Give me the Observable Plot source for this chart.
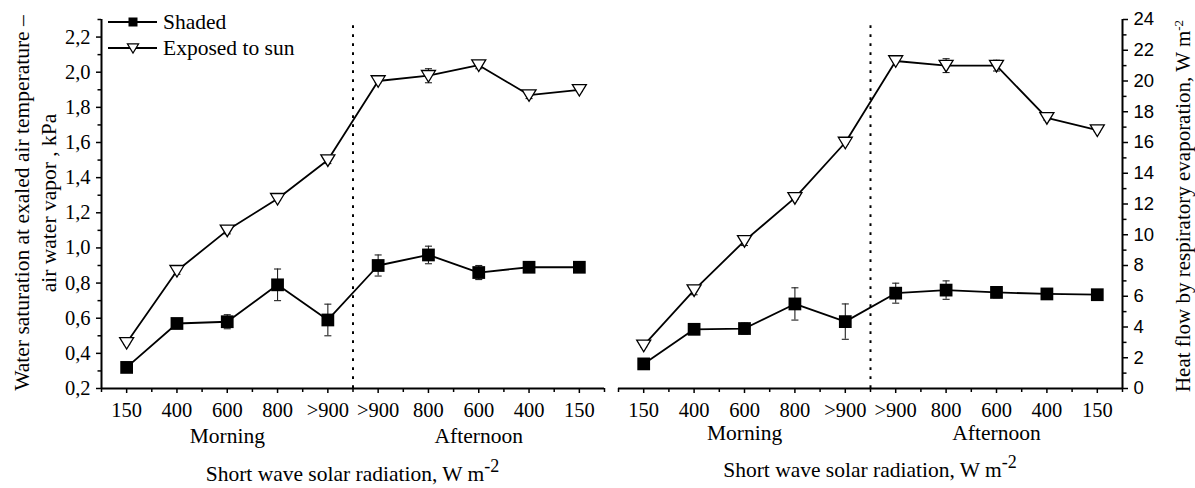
<!DOCTYPE html>
<html>
<head>
<meta charset="utf-8">
<script src="https://cdn.jsdelivr.net/npm/d3@7"></script>
<script src="https://cdn.jsdelivr.net/npm/@observablehq/plot@0.6"></script>
<style>
  body { margin: 0; background: #fff; }
  #wrap { display: flex; width: 1195px; height: 488px; overflow: hidden; }
  #wrap svg { display: block; }
</style>
</head>
<body>
<div id="wrap"></div>
<script>
// Radiation classes along the day (morning rising, afternoon falling)
const radiationLabels = ["150", "400", "600", "800", ">900", ">900", "800", "600", "400", "150"];
const periods = ["Morning", "Afternoon"];

// Left panel: water saturation deficit of exhaled air, kPa
const shadedVp    = [0.32, 0.57, 0.58, 0.79, 0.59, 0.90, 0.96, 0.86, 0.89, 0.89];
const shadedVpErr = [0.01, 0.01, 0.04, 0.09, 0.09, 0.06, 0.05, 0.04, 0.01, 0.01];
const sunVp       = [0.46, 0.87, 1.10, 1.28, 1.50, 1.95, 1.98, 2.04, 1.87, 1.90];
const sunVpErr    = [0.01, 0.02, 0.02, 0.01, 0.02, 0.01, 0.04, 0.02, 0.02, 0.01];

// Right panel: heat flow by respiratory evaporation, W m-2
const shadedHeat    = [1.6, 3.85, 3.9, 5.5, 4.35, 6.2, 6.4, 6.25, 6.15, 6.1];
const shadedHeatErr = [0.1, 0.15, 0.35, 1.05, 1.15, 0.65, 0.6, 0.35, 0.1, 0.1];
const sunHeat       = [2.8, 6.4, 9.6, 12.4, 16.0, 21.3, 21.0, 21.0, 17.6, 16.8];
const sunHeatErr    = [0.1, 0.3, 0.3, 0.1, 0.1, 0.1, 0.45, 0.35, 0.15, 0.1];

const seriesNames = ["Shaded", "Exposed to sun"];

const SERIF = "'Liberation Serif', 'Times New Roman', serif";
const SANS = "'Liberation Sans', Arial, sans-serif";

const rows = (values, errors) => values.map((v, i) => ({i, v, e: errors[i]}));

// Downward-pointing open triangle
const triangleDown = {
  draw(context, size) {
    const r = Math.sqrt(size / Math.PI);
    context.moveTo(-r, -0.75 * r);
    context.lineTo(r, -0.75 * r);
    context.lineTo(0, 0.9 * r);
    context.closePath();
  }
};

function errorMarks(data) {
  const cap = 0.07;
  return [
    Plot.ruleX(data, {x: "i", y1: d => d.v - d.e, y2: d => d.v + d.e, stroke: "#222", strokeWidth: 1.1}),
    Plot.link(data, {x1: d => d.i - cap, x2: d => d.i + cap, y1: d => d.v + d.e, y2: d => d.v + d.e, stroke: "#222", strokeWidth: 1.1}),
    Plot.link(data, {x1: d => d.i - cap, x2: d => d.i + cap, y1: d => d.v - d.e, y2: d => d.v - d.e, stroke: "#222", strokeWidth: 1.1})
  ];
}

function panel(o) {
  const shaded = rows(o.shaded, o.shadedErr);
  const sun = rows(o.sun, o.sunErr);
  const periodRows = periods.map((t, k) => ({t, i: k === 0 ? 2 : 7}));
  const plot = Plot.plot({
    width: o.width,
    height: 488,
    marginLeft: o.marginLeft,
    marginRight: o.marginRight,
    marginTop: 19,
    marginBottom: 100,
    x: {type: "linear", domain: [-0.5, 9.5], label: null},
    y: {domain: o.yDomain, label: null},
    style: {fontFamily: SERIF, fontSize: "20px", background: "white", color: "black", overflow: "visible"},
    marks: [
      // morning / afternoon divider
      Plot.ruleX([4.5], {y1: o.yDomain[0], y2: o.dividerTop, strokeWidth: 2, strokeDasharray: "2.7,6.3"}),
      ...errorMarks(shaded),
      ...errorMarks(sun),
      Plot.line(shaded, {x: "i", y: "v", strokeWidth: 1.8}),
      Plot.line(sun, {x: "i", y: "v", strokeWidth: 1.8}),
      Plot.dot(shaded, {x: "i", y: "v", symbol: "square", r: 7.2, fill: "black", stroke: "none"}),
      Plot.dot(sun, {x: "i", y: "v", symbol: triangleDown, r: 7, fill: "white", stroke: "black", strokeWidth: 1.3}),
      // x axis
      Plot.ruleY([o.yDomain[0]], {strokeWidth: 2}),
      Plot.axisX({ticks: d3.range(10), tickFormat: i => radiationLabels[i], tickSize: 5, tickPadding: 9,
                  strokeWidth: 1.5, label: null, fontFamily: SERIF, fontSize: 20.5}),
      Plot.axisX({ticks: d3.range(11).map(k => k - 0.5), tickFormat: () => "", tickSize: 4, strokeWidth: 1.5, label: null}),
      Plot.text(periodRows, {x: "i", text: "t", frameAnchor: "bottom", dy: o.periodDy, fontSize: 21.5, fontFamily: SERIF}),
      // y axis
      Plot.ruleX([o.yAnchor === "left" ? -0.5 : 9.5], {strokeWidth: 2}),
      Plot.axisY({anchor: o.yAnchor, ticks: o.yMajor, tickFormat: o.yFormat, tickSize: 5, tickPadding: 6,
                  strokeWidth: 1.5, label: null, fontFamily: o.yFont, fontSize: o.yFontSize}),
      Plot.axisY({anchor: o.yAnchor, ticks: o.yMinor, tickFormat: () => "", tickSize: 3.5, strokeWidth: 1.5, label: null})
    ]
  });

  const svg = d3.select(plot);
  const x = plot.scale("x");
  const y = plot.scale("y");
  const baseY = y.apply(o.yDomain[0]);

  // x-axis title with superscript
  const xt = svg.append("text")
    .attr("x", x.apply(4.5))
    .attr("y", baseY + o.titleDy)
    .attr("text-anchor", "middle")
    .attr("dy", "0.35em")
    .style("font-family", SERIF)
    .style("font-size", "21.5px")
    .text("Short wave solar radiation, W m");
  xt.append("tspan").attr("dy", "-0.45em").style("font-size", "18px").text("-2");
  return {plot, svg, x, y};
}

const wrap = document.getElementById("wrap");

// Left panel
const left = panel({
  width: 606, marginLeft: 101, marginRight: 2,
  yDomain: [0.2, 2.3], dividerTop: 2.265,
  yMajor: d3.range(2, 23, 2).map(d => d / 10),
  yMinor: d3.range(3, 24, 2).map(d => d / 10),
  yFormat: d => d.toFixed(1).replace(".", ","),
  yAnchor: "left", yFont: SERIF, yFontSize: 20.5,
  shaded: shadedVp, shadedErr: shadedVpErr, sun: sunVp, sunErr: sunVpErr,
  periodDy: 54, titleDy: 85
});
wrap.appendChild(left.plot);

// Left y title (two lines)
[["Water saturation at exaled air temperature \u2013", 21], ["air water vapor , kPa", 48]].forEach(([t, cx]) => {
  left.svg.append("text")
    .attr("transform", `translate(${cx},203) rotate(-90)`)
    .attr("text-anchor", "middle")
    .attr("dy", "0.35em")
    .style("font-family", SERIF)
    .style("font-size", "21.5px")
    .text(t);
});

// Legend
const legend = left.svg.append("g");
[[0, 22], [1, 48]].forEach(([k, cy]) => {
  legend.append("line").attr("x1", 108).attr("x2", 157).attr("y1", cy).attr("y2", cy)
    .attr("stroke", "black").attr("stroke-width", 1.8);
  if (k === 0) {
    legend.append("rect").attr("x", 128.5).attr("y", cy - 4.5).attr("width", 9).attr("height", 9).attr("fill", "black");
  } else {
    legend.append("path").attr("transform", `translate(133,${cy})`)
      .attr("d", d3.symbol(triangleDown, Math.PI * 5.6 * 5.6)())
      .attr("fill", "white").attr("stroke", "black").attr("stroke-width", 1.2);
  }
  legend.append("text").attr("x", 163).attr("y", cy).attr("dy", "0.33em")
    .attr("text-anchor", "start")
    .style("font-family", SERIF).style("font-size", "21.5px").text(seriesNames[k]);
});

// Right panel
const right = panel({
  width: 589, marginLeft: 12, marginRight: 73,
  yDomain: [0, 24], dividerTop: 23.65,
  yMajor: d3.range(0, 25, 2),
  yMinor: d3.range(1, 24, 2),
  yFormat: d => String(d),
  yAnchor: "right", yFont: SANS, yFontSize: 18.5,
  shaded: shadedHeat, shadedErr: shadedHeatErr, sun: sunHeat, sunErr: sunHeatErr,
  periodDy: 51, titleDy: 81
});
wrap.appendChild(right.plot);

const rt = right.svg.append("text")
  .attr("transform", "translate(577,206) rotate(-90)")
  .attr("text-anchor", "middle")
  .attr("dy", "0.35em")
  .style("font-family", SERIF)
  .style("font-size", "21px")
  .text("Heat flow by respiratory evaporation, W m");
rt.append("tspan").attr("dy", "-0.55em").style("font-size", "13px").text("-2");
</script>
</body>
</html>
